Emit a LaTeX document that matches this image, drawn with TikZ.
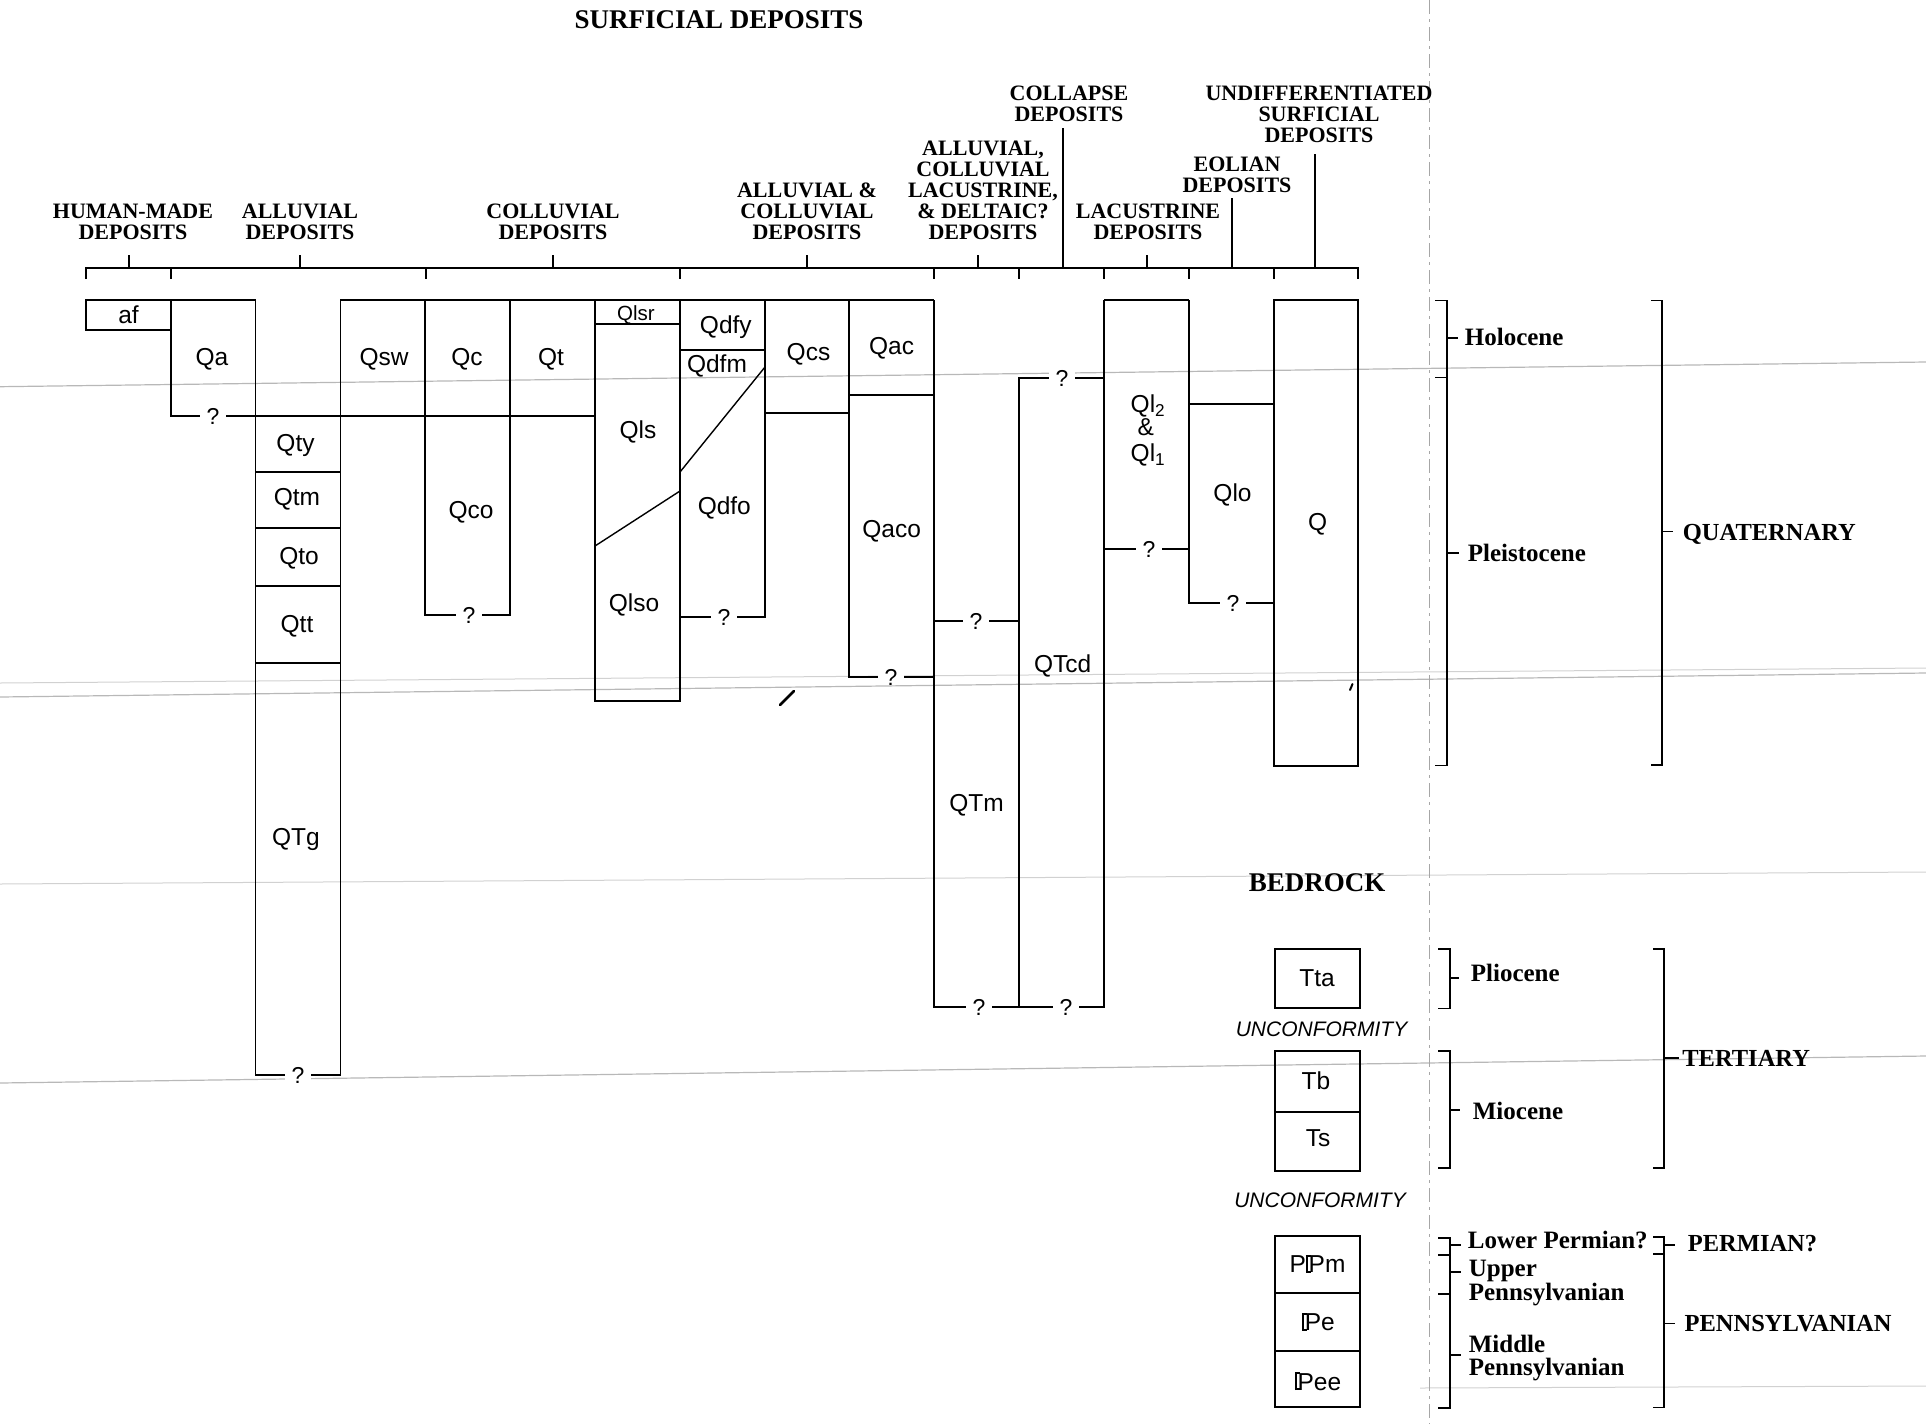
\documentclass[tikz,border=0pt]{standalone}
\usepackage{fontspec}
\setmainfont{Liberation Serif}
\setsansfont{Liberation Sans}
\newcommand\pennP{\mbox{\rlap{\vrule width .075em height .716em depth 0pt}\rlap{\vrule width .2em height .716em depth -.646em}\rlap{\vrule width .2em height .07em depth 0pt}\kern.11em P}}
\begin{document}
\begin{tikzpicture}[x=1pt,y=-1pt,line width=1.7pt,
  scan/.style={draw=black!28,line width=1.2pt},
  hdr/.style={font=\bfseries\fontsize{22}{21}\selectfont,align=center,inner sep=0pt},
  lbl/.style={font=\sffamily\fontsize{24.5}{25}\selectfont,inner sep=0pt,anchor=base},
  qm/.style={font=\sffamily\fontsize{23}{24}\selectfont,fill=white,inner xsep=7pt,inner ysep=0pt},
  ep/.style={font=\bfseries\fontsize{25}{25}\selectfont,inner sep=0pt,anchor=base west},
  per/.style={font=\bfseries\fontsize{24.5}{25}\selectfont,inner sep=0pt,anchor=base west},
  unc/.style={font=\sffamily\itshape\fontsize{21}{22}\selectfont,inner sep=0pt,anchor=base},
  tk/.style={line width=1.5pt}]
\useasboundingbox (0,0) rectangle (1926,1424);

% scan artefacts
\draw[scan] (0,386.7) -- (1926,362);
\draw[scan] (0,697) -- (1926,673);
\draw[draw=black!18,line width=1pt] (0,683) -- (1926,668);
\draw[draw=black!18,line width=1pt] (0,884) -- (1926,872);
\draw[scan] (0,1083) -- (1926,1056);
\draw[draw=black!18,line width=1pt] (1420,1388) -- (1926,1386);
\draw[draw=black!35,line width=1.1pt,dash pattern=on 14pt off 5pt on 3pt off 5pt] (1429.5,0) -- (1429.5,1424);
\draw[line width=2.6pt,line cap=round] (780,705) -- (794,691);
\draw[line width=2pt,line cap=round] (1350,690) -- (1352.5,684);

% title and headers
\node[font=\bfseries\fontsize{27}{27}\selectfont,inner sep=0pt,anchor=base] (title) at (719,28.5) {SURFICIAL DEPOSITS};
\node[hdr] (h1) at (133,222) {HUMAN-MADE\\DEPOSITS};
\node[hdr] (h2) at (300,222) {ALLUVIAL\\DEPOSITS};
\node[hdr] (h3) at (553,222) {COLLUVIAL\\DEPOSITS};
\node[hdr] (h4) at (807,211.5) {ALLUVIAL \&\\COLLUVIAL\\DEPOSITS};
\node[hdr] (h5) at (983,190.6) {ALLUVIAL,\\COLLUVIAL\\LACUSTRINE,\\\& DELTAIC?\\DEPOSITS};
\node[hdr] (h6) at (1069,103.7) {COLLAPSE\\DEPOSITS};
\node[hdr] (h7) at (1148,221.7) {LACUSTRINE\\DEPOSITS};
\node[hdr] (h8) at (1237,174.5) {EOLIAN\\DEPOSITS};
\node[hdr] (h9) at (1319,114.2) {UNDIFFERENTIATED\\SURFICIAL\\DEPOSITS};

% header bar and ticks
\draw[tk] (86,279) -- (86,268) -- (1358,268) -- (1358,279);
\foreach \x in {171,426,680,934,1019,1104,1189,1274} \draw[tk] (\x,268) -- (\x,279);
\foreach \x in {129,300,553,807,978,1147} \draw[tk] (\x,255) -- (\x,268);
\draw[tk] (1063,128) -- (1063,268);
\draw[tk] (1232,198) -- (1232,268);
\draw[tk] (1315,154) -- (1315,268);

% surficial columns
\draw (86,300) rectangle (171,330);
\draw (171,300) -- (255.6,300);
\draw (340.4,300) -- (934,300);
\draw (1104,300) -- (1189,300);
\draw (1274,300) rectangle (1358,766);
\draw (171,300) -- (171,416) -- (595,416);
\draw (255.6,300) -- (255.6,1075) -- (340.4,1075) -- (340.4,300);
\foreach \y in {472,528,586,663} \draw (255.6,\y) -- (340.4,\y);
\draw (425.2,300) -- (425.2,615) -- (510,615) -- (510,300);
\draw (595,300) -- (595,701) -- (680,701) -- (680,300);
\draw (595,324) -- (680,324);
\draw[line width=1.4pt] (595,546) -- (680,491);
\draw (680,350) -- (765,350);
\draw[line width=1.4pt] (765,367) -- (680,472);
\draw (680,617) -- (765,617) -- (765,300);
\draw (765,413) -- (849,413);
\draw (849,300) -- (849,677) -- (934,677);
\draw (849,395) -- (934,395);
\draw (934,300) -- (934,1007) -- (1104,1007) -- (1104,300);
\draw (934,621) -- (1019,621);
\draw (1019,1007) -- (1019,378) -- (1104,378);
\draw (1104,549) -- (1189,549);
\draw (1189,300) -- (1189,603) -- (1274,603);
\draw (1189,404) -- (1274,404);

% question marks
\node[qm] (q1) at (213,416) {?};
\node[qm] (q2) at (469,615) {?};
\node[qm] (q3) at (298,1075) {?};
\node[qm] (q4) at (724,617) {?};
\node[qm] (q5) at (891,677) {?};
\node[qm] (q6) at (976,621) {?};
\node[qm] (q7) at (1062,378) {?};
\node[qm] (q8) at (1149,549) {?};
\node[qm] (q9) at (1233,603) {?};
\node[qm] (q10) at (979,1007) {?};
\node[qm] (q11) at (1066,1007) {?};

% labels
\node[lbl] (af) at (128.5,323.5) {af};
\node[lbl] (Qa) at (212,365) {Qa};
\node[lbl] (Qsw) at (384,365) {Qsw};
\node[lbl] (Qc) at (467,365) {Qc};
\node[lbl] (Qt) at (551,365) {Qt};
\node[lbl,font=\sffamily\fontsize{20.5}{21}\selectfont] (Qlsr) at (636,320) {Qlsr};
\node[lbl] (Qls) at (638,438.3) {Qls};
\node[lbl] (Qlso) at (634,611.7) {Qlso};
\node[lbl] (Qty) at (295.5,451.7) {Qty};
\node[lbl] (Qtm) at (297,505) {Qtm};
\node[lbl] (Qto) at (299,564) {Qto};
\node[lbl] (Qtt) at (297,632.7) {Qtt};
\node[lbl] (QTg) at (296,845) {QTg};
\node[lbl] (Qco) at (471,518.3) {Qco};
\node[lbl] (Qdfy) at (725.8,333.3) {Qdfy};
\node[lbl] (Qdfm) at (717,372.7) {Qdfm};
\node[lbl] (Qdfo) at (724.3,514.3) {Qdfo};
\node[lbl] (Qcs) at (808.5,360) {Qcs};
\node[lbl] (Qac) at (891.6,354) {Qac};
\node[lbl] (Qaco) at (891.6,537.3) {Qaco};
\node[lbl] (QTm) at (976.5,811.7) {QTm};
\node[lbl] (QTcd) at (1062.6,672.7) {QTcd};
\node[lbl] (Ql2) at (1148,412.7) {Ql\textsubscript{2}};
\node[lbl] (amp) at (1145.7,435) {\&};
\node[lbl] (Ql1) at (1148,461.7) {Ql\textsubscript{1}};
\node[lbl] (Qlo) at (1232.5,501.7) {Qlo};
\node[lbl] (Q) at (1317.6,530.7) {Q};

% bedrock
\node[font=\bfseries\fontsize{27}{27}\selectfont,inner sep=0pt,anchor=base] (bed) at (1317,891) {BEDROCK};
\draw (1275,949) rectangle (1360,1008.3);
\draw (1275,1051) rectangle (1360,1171);
\draw (1275,1111.7) -- (1360,1111.7);
\draw (1275,1236) rectangle (1360,1407.3);
\draw (1275,1293.3) -- (1360,1293.3);
\draw (1275,1350.7) -- (1360,1350.7);
\node[lbl] (Tta) at (1317,986) {Tta};
\node[lbl] (Tb) at (1316,1089.3) {Tb};
\node[lbl] (Ts) at (1318,1146.7) {Ts};
\node[lbl] (PPm) at (1317.5,1272.7) {P\pennP m};
\node[lbl] (Pe) at (1318.5,1330.7) {\pennP e};
\node[lbl] (Pee) at (1318,1390) {\pennP ee};
\node[unc] (u1) at (1321.5,1036.7) {UNCONFORMITY};
\node[unc] (u2) at (1320,1207.3) {UNCONFORMITY};

% epoch brackets
\draw[tk] (1435,300.7) -- (1447,300.7) -- (1447,765.5) -- (1435,765.5);
\draw[tk] (1435,377.5) -- (1447,377.5);
\draw[tk] (1447,338) -- (1458,338);
\draw[tk] (1447,553) -- (1459,553);
\node[ep] (hol) at (1464,345) {Holocene};
\node[ep] (ple) at (1467,561.7) {Pleistocene};

\draw[tk] (1438,949) -- (1450,949) -- (1450,1008.3) -- (1438,1008.3);
\draw[tk] (1450,978) -- (1459,978);
\node[ep] (pli) at (1470,981) {Pliocene};
\draw[tk] (1438,1051) -- (1450,1051) -- (1450,1168) -- (1438,1168);
\draw[tk] (1450,1110) -- (1460,1110);
\node[ep] (mio) at (1472,1119) {Miocene};

\draw[tk] (1438,1238) -- (1450,1238) -- (1450,1408) -- (1438,1408);
\draw[tk] (1438,1255) -- (1450,1255);
\draw[tk] (1438,1294) -- (1450,1294);
\foreach \y in {1245,1272,1355} \draw[tk] (1450,\y) -- (1461,\y);
\node[ep] (lp) at (1467,1248.3) {Lower Permian?};
\node[ep] (up1) at (1468,1276.7) {Upper};
\node[ep] (up2) at (1468,1300) {Pennsylvanian};
\node[ep] (mp1) at (1468,1352.7) {Middle};
\node[ep] (mp2) at (1468,1375) {Pennsylvanian};

% period brackets
\draw[tk] (1651,300.7) -- (1662,300.7) -- (1662,765) -- (1651,765);
\draw[tk] (1662,531.7) -- (1673,531.7);
\node[per] (qua) at (1682,540.7) {QUATERNARY};
\draw[tk] (1653,949) -- (1664,949) -- (1664,1168) -- (1653,1168);
\draw[tk] (1664,1058) -- (1679,1058);
\node[per] (ter) at (1681.5,1066.7) {TERTIARY};
\draw[tk] (1653,1237) -- (1664,1237) -- (1664,1407.3) -- (1653,1407.3);
\draw[tk] (1653,1254) -- (1664,1254);
\draw[tk] (1664,1245) -- (1675,1245);
\draw[tk] (1664,1323.3) -- (1675,1323.3);
\node[per] (perm) at (1687,1251.7) {PERMIAN?};
\node[per] (penn) at (1683.8,1331) {PENNSYLVANIAN};
\end{tikzpicture}
\end{document}
